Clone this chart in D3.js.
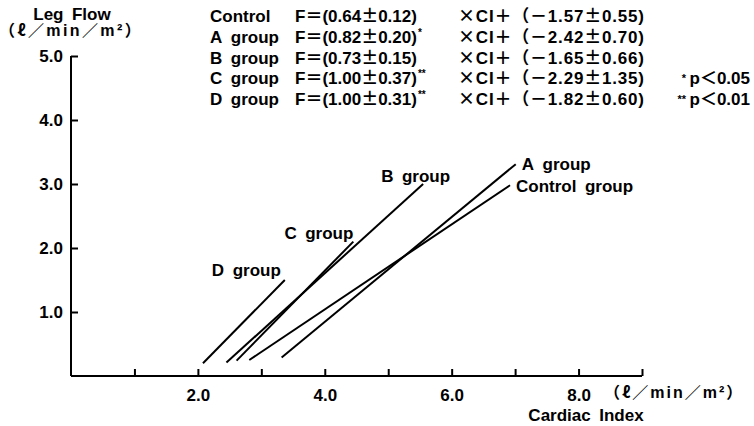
<!DOCTYPE html>
<html><head><meta charset="utf-8">
<script src="https://cdn.jsdelivr.net/npm/d3@7"></script>
<style>
html,body{margin:0;padding:0;background:#fff;}
svg text{font-family:"Liberation Sans","Noto Sans CJK JP",sans-serif;fill:#000;font-weight:bold;}
.cjk{font-family:"Noto Sans CJK JP",sans-serif;}
</style></head>
<body>
<svg id="c" width="754" height="426" xml:space="preserve"></svg>
<script>
// ---- data ----
const groups = ["Control group", "A group", "B group", "C group", "D group"];
const ciStart = [2.81, 3.32, 2.45, 2.61, 2.08];
const flowStart = [0.25, 0.29, 0.21, 0.24, 0.20];
const ciEnd = [6.92, 7.01, 5.55, 4.45, 3.37];
const flowEnd = [2.98, 3.31, 3.00, 2.10, 1.50];

const xTickValues = [1, 2, 3, 4, 5, 6, 7, 8, 9];
const xTickLabels = ["", "2.0", "", "4.0", "", "6.0", "", "8.0", ""];
const yTickValues = [1, 2, 3, 4, 5];
const yTickLabels = ["1.0", "2.0", "3.0", "4.0", "5.0"];

const eqNames = ["Control", "A group", "B group", "C group", "D group"];
const eqSlopes = ["0.64±0.12", "0.82±0.20", "0.73±0.15", "1.00±0.37", "1.00±0.31"];
const eqSig = ["", "*", "", "**", "**"];
const eqIntercepts = ["－1.57±0.55", "－2.42±0.70", "－1.65±0.66", "－2.29±1.35", "－1.82±0.60"];
const pStars = ["", "", "", "*", "**"];
const pNotes = ["", "", "", "p＜0.05", "p＜0.01"];
const unitText = "（ℓ／min／m²）";

// ---- helpers ----
const GAP = "\u2002"; // wide word gap as in the original
const CJK = /([±×ℓ＝＋－＜（）／])/;
function rich(sel, str) {
  str.replace(/ /g, GAP).split(CJK).forEach(p => {
    if (!p) return;
    const t = sel.append("tspan").text(p);
    if (CJK.test(p) && p.length === 1) t.attr("class", "cjk");
  });
  return sel;
}

// ---- layout ----
const svg = d3.select("#c");
const x = d3.scaleLinear().domain([0, 9]).range([71, 642]);
const y = d3.scaleLinear().domain([0, 5]).range([376, 56]);

// axes
const xAxis = d3.axisBottom(x).tickValues(xTickValues).tickSizeInner(-7).tickSizeOuter(0)
  .tickFormat((d, i) => xTickLabels[i]).tickPadding(13);
const gx = svg.append("g").attr("transform", `translate(0,${y(0)})`).call(xAxis);
const yAxis = d3.axisLeft(y).tickValues(yTickValues).tickSizeInner(-7).tickSizeOuter(0)
  .tickFormat((d, i) => yTickLabels[i]).tickPadding(8);
const gy = svg.append("g").attr("transform", `translate(${x(0)},0)`).call(yAxis);
[gx, gy].forEach(g => {
  g.select(".domain").attr("stroke", "#000").attr("stroke-width", 2);
  g.selectAll(".tick line").attr("stroke", "#000").attr("stroke-width", 2);
  g.selectAll(".tick text").style("font-size", "17px").style("font-family", null).attr("fill", "#000");
});
gx.select(".domain").attr("d", `M${x(0)},0H${x(9)}`);
gy.select(".domain").attr("d", `M0,${y(0)}V${y(5)}`);

// axis titles
rich(svg.append("text").attr("x", 72).attr("y", 20).attr("text-anchor", "middle").style("font-size", "17px"), "Leg Flow");
rich(svg.append("text").attr("x", 71).attr("y", 36).attr("text-anchor", "middle")
  .style("font-size", "16px").style("letter-spacing", "2.4px"), unitText);
rich(svg.append("text").attr("x", 604).attr("y", 398)
  .style("font-size", "16px").style("letter-spacing", "2px"), unitText);
rich(svg.append("text").attr("x", 586).attr("y", 421).attr("text-anchor", "middle").style("font-size", "17px"), "Cardiac Index");

// regression lines
const lines = groups.map((g, i) => ({g, x0: ciStart[i], y0: flowStart[i], x1: ciEnd[i], y1: flowEnd[i]}));
svg.append("g").selectAll("line").data(lines).join("line")
  .attr("x1", d => x(d.x0)).attr("y1", d => y(d.y0))
  .attr("x2", d => x(d.x1)).attr("y2", d => y(d.y1))
  .attr("stroke", "#000").attr("stroke-width", 2);

// line labels (offsets from top end)
const labelDx = [6, 6, 27, 0, -4];
const labelDy = [7, 6, -2, -3, -4];
const labelAnchor = ["start", "start", "end", "end", "end"];
svg.append("g").selectAll("text").data(lines).join("text")
  .attr("x", (d, i) => x(d.x1) + labelDx[i])
  .attr("y", (d, i) => y(d.y1) + labelDy[i])
  .attr("text-anchor", (d, i) => labelAnchor[i])
  .style("font-size", "17px")
  .each(function(d) { rich(d3.select(this), d.g); });

// equations
const rowY = i => 22 + i * 20.8;
const eq = svg.append("g").style("font-size", "17px");
eqNames.forEach((n, i) => {
  rich(eq.append("text").attr("x", 210).attr("y", rowY(i)), n);
  const t = rich(eq.append("text").attr("x", 295).attr("y", rowY(i)), "F＝(" + eqSlopes[i] + ")");
  if (eqSig[i]) t.append("tspan").attr("dx", 1).attr("dy", -7).style("font-size", "10px").text(eqSig[i]);
  rich(eq.append("text").attr("x", 458).attr("y", rowY(i)).style("letter-spacing", "0.8px"),
    "×CI＋（" + eqIntercepts[i] + ")");
  if (pNotes[i]) {
    const p = eq.append("text").attr("x", 750).attr("y", rowY(i)).attr("text-anchor", "end");
    p.append("tspan").style("font-size", "11px").attr("dy", -2).text(pStars[i]);
    p.append("tspan").attr("dy", 2).text("\u2009");
    rich(p, pNotes[i]);
  }
});
</script>
</body></html>
